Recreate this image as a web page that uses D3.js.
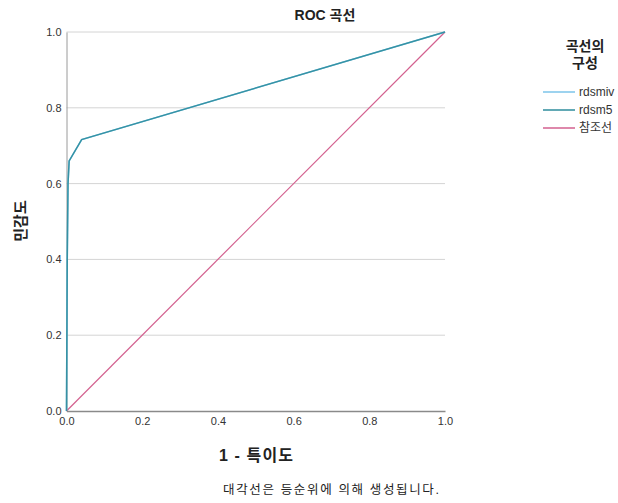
<!DOCTYPE html>
<html><head><meta charset="utf-8">
<script src="https://cdn.jsdelivr.net/npm/d3@7"></script>
<style>body{margin:0;background:#fff}svg{display:block}text{font-family:"Liberation Sans",Arial,"Noto Sans CJK KR",sans-serif}</style>
</head><body><svg id="c" width="618" height="503"></svg>
<script>
const seriesNames = ["rdsmiv", "rdsm5", "참조선"];
const seriesColors = ["#7cc4ea", "#2e8d9c", "#d3618f"];
const fprMiv = [0, 0.002, 0.004, 0.007, 0.04, 1];
const tprMiv = [0, 0.40, 0.60, 0.66, 0.716, 1];
const fprM5 = [0, 0.002, 0.004, 0.007, 0.04, 1];
const tprM5 = [0, 0.40, 0.60, 0.66, 0.716, 1];
const refX = [0, 1];
const refY = [0, 1];
const ticks = [0, 0.2, 0.4, 0.6, 0.8, 1.0];

const svg = d3.select("#c");
const x = d3.scaleLinear().domain([0,1]).range([66.5,445]);
const y = d3.scaleLinear().domain([0,1]).range([411,32]);

// gridlines
svg.append("g").selectAll("line").data(ticks.filter(t=>t>0)).join("line")
  .attr("x1",x(0)).attr("x2",x(1)).attr("y1",d=>y(d)).attr("y2",d=>y(d))
  .attr("stroke","#d4d4d4").attr("stroke-width",1);

// axes
const yAxis = svg.append("g").attr("transform",`translate(${x(0)},0)`)
  .call(d3.axisLeft(y).tickValues(ticks).tickFormat(d3.format(".1f")).tickSize(0).tickPadding(5));
yAxis.select(".domain").attr("stroke","#9a9a9a");
yAxis.selectAll("text").attr("font-size",11).attr("fill","#333");
const xAxis = svg.append("g").attr("transform",`translate(0,${y(0)})`)
  .call(d3.axisBottom(x).tickValues(ticks).tickFormat(d3.format(".1f")).tickSize(0).tickPadding(6));
xAxis.select(".domain").attr("stroke","#8a8a8a").attr("stroke-width",1.5);
xAxis.selectAll("text").attr("font-size",11).attr("fill","#333");

const line = d3.line().x(d=>x(d[0])).y(d=>y(d[1]));
svg.append("path").datum(refX.map((v,i)=>[v,refY[i]])).attr("d",line)
  .attr("fill","none").attr("stroke",seriesColors[2]).attr("stroke-width",1.2);
svg.append("path").datum(fprMiv.map((v,i)=>[v,tprMiv[i]])).attr("d",line)
  .attr("fill","none").attr("stroke",seriesColors[0]).attr("stroke-width",1.5);
svg.append("path").datum(fprM5.map((v,i)=>[v,tprM5[i]])).attr("d",line)
  .attr("fill","none").attr("stroke",seriesColors[1]).attr("stroke-width",1.5).attr("stroke-opacity",0.9);

// titles
svg.append("text").attr("x",325).attr("y",20).attr("text-anchor","middle")
  .attr("font-size",14).attr("font-weight","bold").attr("fill","#222").text("ROC 곡선");
svg.append("text").attr("x",219).attr("y",461).attr("textLength",74).attr("lengthAdjust","spacing")
  .attr("font-size",16).attr("font-weight","bold").attr("fill","#222").text("1 - 특이도");
svg.append("text").attr("transform","translate(26,221) rotate(-90)").attr("text-anchor","middle")
  .attr("font-size",15).attr("font-weight","bold").attr("fill","#222").text("민감도");
svg.append("text").attr("x",223).attr("y",494).attr("textLength",216).attr("lengthAdjust","spacing")
  .attr("font-size",12.5).attr("fill","#222").text("대각선은 등순위에 의해 생성됩니다.");

// legend
const lg = svg.append("g");
lg.append("text").attr("x",585).attr("y",51).attr("text-anchor","middle")
  .attr("font-size",14).attr("font-weight","bold").attr("fill","#222").text("곡선의");
lg.append("text").attr("x",585).attr("y",68).attr("text-anchor","middle")
  .attr("font-size",14).attr("font-weight","bold").attr("fill","#222").text("구성");
seriesNames.forEach((n,i)=>{
  const yy = 92 + i*18;
  lg.append("line").attr("x1",543).attr("x2",575).attr("y1",yy).attr("y2",yy)
    .attr("stroke",seriesColors[i]).attr("stroke-width",1.5);
  lg.append("text").attr("x",579).attr("y",yy+4).attr("font-size",12).attr("fill","#333").text(n);
});
</script></body></html>
